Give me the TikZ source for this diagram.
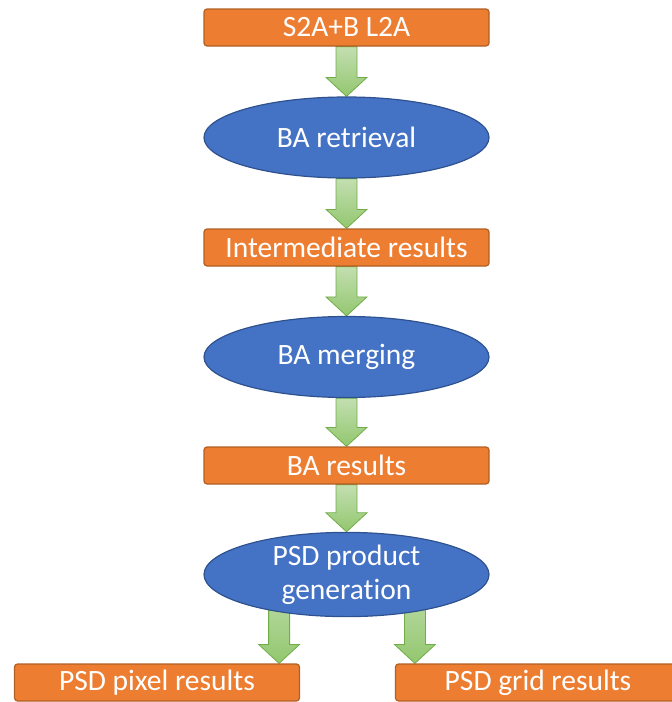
\documentclass[tikz,border=0pt]{standalone}
\usepackage{fontspec}
\setmainfont{Carlito}[Ligatures=CommonOff]
\usepackage{tikz}
\usetikzlibrary{shapes.geometric, calc, backgrounds}

\definecolor{naranja}{HTML}{ED7D31}
\definecolor{naranjaborde}{HTML}{B05F25}
\definecolor{azul}{HTML}{4472C4}
\definecolor{azulborde}{HTML}{2F528F}
\definecolor{verdeclaro}{HTML}{C3DFB1}
\definecolor{verdeoscuro}{HTML}{93C76F}
\definecolor{verdeborde}{HTML}{70AD47}

\tikzset{
  caja/.style={draw=naranjaborde, fill=naranja, line width=1.2pt, rounded corners=3pt,
    minimum width=285pt, minimum height=37pt, inner sep=0pt, text=white},
  proceso/.style={ellipse, draw=azulborde, fill=azul, line width=1.2pt,
    minimum width=285pt, minimum height=81pt, inner sep=0pt, text=white, align=center},
  flecha/.style={draw=verdeborde, line width=0.8pt, top color=verdeclaro, bottom color=verdeoscuro}
}

% flecha de bloque desde #1 hasta la punta #2
\newcommand{\flechaverde}[2]{%
  \path[flecha] let \p1=(#1), \p2=(#2) in
    (\x1-10.5pt,\y1) -- (\x1+10.5pt,\y1) -- (\x1+10.5pt,\y2+19pt) -- (\x1+20.5pt,\y2+19pt)
    -- (\x1,\y2) -- (\x1-20.5pt,\y2+19pt) -- (\x1-10.5pt,\y2+19pt) -- cycle;}

\begin{document}
\begin{tikzpicture}[x=1pt, y=-1pt, every node/.style={font=\fontsize{29.5}{34}\selectfont}]
    \useasboundingbox (0,0) rectangle (672,702);

    % Cajas y elipses
    \node[caja] (l2a) at (346.5,27.5) {S2A+B L2A};
    \node[proceso] (retrieval) at (346.5,137.5) {BA retrieval};
    \node[caja] (intermedios) at (346.5,247.5) {Intermediate results};
    \node[proceso] (merging) at (346.5,357) {BA merging};
    \node[caja] (resultados) at (346.5,465.5) {BA results};
    \node[proceso] (psd) at (346.5,574.5) {PSD product\\generation};
    \node[caja] (pixel) at (157,682.5) {PSD pixel results};
    \node[caja] (grid) at (538,682.5) {PSD grid results};

    \coordinate (puntapixel) at ([xshift=-21pt]pixel.north east);
    \coordinate (puntagrid) at ([xshift=20pt]grid.north west);

    % Flechas
    \begin{scope}[on background layer]
        \flechaverde{l2a.south}{retrieval.north}
        \flechaverde{retrieval.south}{intermedios.north}
        \flechaverde{intermedios.south}{merging.north}
        \flechaverde{merging.south}{resultados.north}
        \flechaverde{resultados.south}{psd.north}
        \flechaverde{puntapixel |- psd.center}{puntapixel}
        \flechaverde{puntagrid |- psd.center}{puntagrid}
    \end{scope}
\end{tikzpicture}
\end{document}
